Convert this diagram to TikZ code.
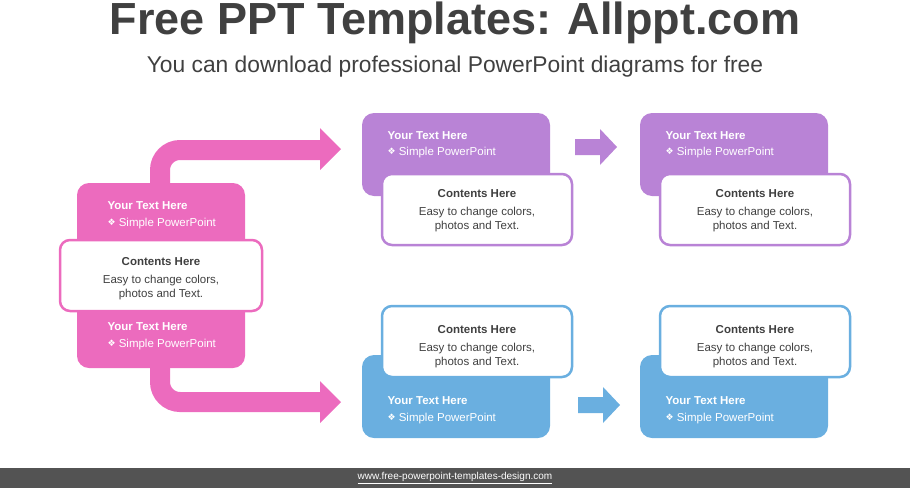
\documentclass[tikz,border=0pt]{standalone}
\usepackage{fontspec}
\setmainfont{Liberation Sans}
\newfontfamily\symfont{DejaVu Sans}
\usetikzlibrary{positioning}
\definecolor{pinkc}{HTML}{EC6BBE}
\definecolor{purplec}{HTML}{B983D6}
\definecolor{bluec}{HTML}{6AAFE0}
\definecolor{darkc}{HTML}{404040}
\newcommand{\bul}{\raisebox{1pt}{\symfont\fontsize{9}{9}\selectfont ❖}}
\tikzset{
  cbox/.style={rounded corners=12pt, minimum width=188pt, minimum height=83pt, draw=none},
  wbox/.style={rounded corners=10pt, fill=white, line width=2.5pt, minimum width=190pt, minimum height=71pt},
  head/.style={text=white, font=\fontsize{11.5}{13}\selectfont\bfseries, anchor=west},
  sub/.style={text=white, font=\fontsize{11.5}{13}\selectfont, anchor=west},
  chead/.style={text=darkc, font=\fontsize{11.5}{13}\selectfont\bfseries},
  ctext/.style={text=darkc, font=\fontsize{11.5}{14}\selectfont, align=center}
}
\begin{document}
\begin{tikzpicture}[x=1pt,y=-1pt]
\useasboundingbox (0,0) rectangle (910,488);
% title
\node[text=darkc, font=\fontsize{45}{48}\selectfont\bfseries] (title) at (455,23) {Free PPT Templates: Allppt.com};
\node[text=darkc, font=\fontsize{22.8}{26}\selectfont] (subtitle) at (455,67) {You can download professional PowerPoint diagrams for free};
% bent arrows
\draw[pinkc, line width=20pt, rounded corners=20pt] (160,200) -- (160,150) -- (322,150);
\fill[pinkc] (320,128) -- (341,149) -- (320,170) -- cycle;
\draw[pinkc, line width=20pt, rounded corners=20pt] (160,350) -- (160,402) -- (322,402);
\fill[pinkc] (320,381) -- (341,402) -- (320,423) -- cycle;
% left block
\node[cbox, fill=pinkc, minimum width=168pt, minimum height=185pt] (lbox) at (161,275.5) {};
\node[wbox, draw=pinkc, minimum width=202pt] (lwhite) at (161,275.5) {};
\node[head] (lh1) at (104,206) {Your Text Here};
\node[sub] (ls1) at (104,224) {\bul\ Simple PowerPoint};
\node[head] (lh2) at (104,327) {Your Text Here};
\node[sub] (ls2) at (104,345) {\bul\ Simple PowerPoint};
\node[chead] (lc) at (161,262) {Contents Here};
\node[ctext] (lt) at (161,288) {Easy to change colors,\\photos and Text.};
% top row
\foreach \dx/\nm in {0/a,278/b}{
  \node[cbox, fill=purplec] (p\nm) at (456+\dx,154.5) {};
  \node[wbox, draw=purplec] (pw\nm) at (477+\dx,209.5) {};
  \node[head] at (384+\dx,136) {Your Text Here};
  \node[sub] at (384+\dx,153) {\bul\ Simple PowerPoint};
  \node[chead] at (477+\dx,194) {Contents Here};
  \node[ctext] at (477+\dx,220) {Easy to change colors,\\photos and Text.};
}
% bottom row
\foreach \dx/\nm in {0/a,278/b}{
  \node[cbox, fill=bluec] (q\nm) at (456+\dx,396.5) {};
  \node[wbox, draw=bluec] (qw\nm) at (477+\dx,341.5) {};
  \node[head] at (384+\dx,401) {Your Text Here};
  \node[sub] at (384+\dx,419) {\bul\ Simple PowerPoint};
  \node[chead] at (477+\dx,330) {Contents Here};
  \node[ctext] at (477+\dx,356) {Easy to change colors,\\photos and Text.};
}
% small arrows
\fill[purplec] (575,139) -- (600,139) -- (600,129) -- (617,147) -- (600,165) -- (600,155) -- (575,155) -- cycle;
\fill[bluec] (578,397) -- (603,397) -- (603,387) -- (620,405) -- (603,423) -- (603,413) -- (578,413) -- cycle;
% footer
\fill[darkc!90] (0,468) rectangle (910,488);
\node[text=white, font=\fontsize{10}{11}\selectfont] (foot) at (455,478) {\underline{www.free-powerpoint-templates-design.com}};
\end{tikzpicture}
\end{document}
